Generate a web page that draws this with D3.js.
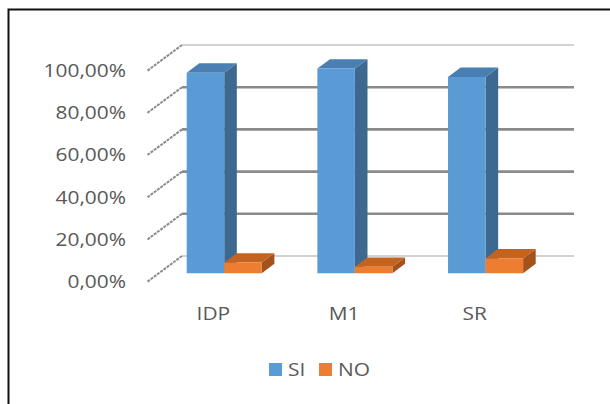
<!DOCTYPE html>
<html>
<head>
<meta charset="utf-8">
<script src="https://cdn.jsdelivr.net/npm/d3@7"></script>
<style>
  html, body { margin: 0; padding: 0; background: #fff; }
  svg { display: block; }
  text { font-family: "Open Sans", "Noto Sans", sans-serif; fill: #595959; }
</style>
</head>
<body>
<svg id="chart" width="610" height="404"></svg>
<script>
// Data
const categories = ["IDP", "M1", "SR"];
const seriesNames = ["SI", "NO"];
const siValues = [0.95, 0.97, 0.93];
const noValues = [0.05, 0.03, 0.07];
const tickValues = [0, 0.2, 0.4, 0.6, 0.8, 1.0];
const tickLabels = ["0,00%", "20,00%", "40,00%", "60,00%", "80,00%", "100,00%"];

const colors = {
  SI: { front: "#5b9bd5", side: "#3d6990", top: "#4a7fb3" },
  NO: { front: "#ed7d31", side: "#a4521b", top: "#c4631f" }
};

const FONT_SIZE = 19;
const STRETCH = 1.1; // slightly wide lettering

const svg = d3.select("#chart");

// Outer frame
svg.append("rect")
  .attr("x", 8.5).attr("y", 9.5)
  .attr("width", 620).attr("height", 420)
  .attr("fill", "none").attr("stroke", "#111").attr("stroke-width", 2);

// Back wall scales
const x = d3.scaleBand().domain(categories).range([182, 574]).padding(0);
const xSub = d3.scaleBand().domain(seriesNames).range([0, x.bandwidth()])
  .paddingInner(0).paddingOuter(0.74);
const y = d3.scaleLinear().domain([0, 1]).range([256, 45]);

// Oblique depth: vector from back wall to front edge of the floor
const DX = -35, DY = 26;
const T_FRONT = 0.66, T_BACK = 0.30;
const proj = (px, py, t) => [px + DX * t, py + DY * t];

// Back wall gridlines
const grid = svg.append("g");
tickValues.forEach((v, i) => {
  const edge = (i === 0 || i === tickValues.length - 1);
  grid.append("line")
    .attr("x1", 182).attr("x2", 574)
    .attr("y1", y(v)).attr("y2", y(v))
    .attr("stroke", edge ? "#d2d2d2" : "#8a8a8a")
    .attr("stroke-width", edge ? 2.2 : 2.6);
  // Side wall gridline (runs from back wall toward the front)
  const [fx, fy] = proj(182, y(v), 1);
  grid.append("line")
    .attr("x1", 182).attr("y1", y(v))
    .attr("x2", fx).attr("y2", fy)
    .attr("stroke", "#8c8c8c").attr("stroke-width", 2)
    .attr("stroke-dasharray", "3,1");
});

// Places a stretched text label at (px, py)
function placeText(sel, px, py) {
  sel.attr("transform", `translate(${px},${py}) scale(${STRETCH},1)`);
}

// Value axis labels (at the front edge of the side wall)
svg.append("g").selectAll("text")
  .data(tickValues)
  .join("text")
  .attr("text-anchor", "end")
  .attr("dominant-baseline", "middle")
  .attr("font-size", FONT_SIZE)
  .each(function (d) { placeText(d3.select(this), 126, y(d) + DY + 1); })
  .text((d, i) => tickLabels[i]);

// 3D columns
const rows = [];
categories.forEach((c, ci) => {
  seriesNames.forEach(s => {
    rows.push({ cat: c, series: s, value: s === "SI" ? siValues[ci] : noValues[ci] });
  });
});

const bars = svg.append("g");
const pts = a => a.map(p => p.join(",")).join(" ");
rows.forEach(d => {
  const x0 = x(d.cat) + xSub(d.series);
  const x1 = x0 + xSub.bandwidth();
  const yt = y(d.value), yb = y(0);
  const col = colors[d.series];
  const fTL = proj(x0, yt, T_FRONT), fTR = proj(x1, yt, T_FRONT);
  const fBL = proj(x0, yb, T_FRONT), fBR = proj(x1, yb, T_FRONT);
  const bTL = proj(x0, yt, T_BACK), bTR = proj(x1, yt, T_BACK);
  const bBR = proj(x1, yb, T_BACK);
  const g = bars.append("g");
  // right side face
  g.append("polygon").attr("points", pts([fTR, bTR, bBR, fBR])).attr("fill", col.side);
  // top face
  g.append("polygon").attr("points", pts([fTL, bTL, bTR, fTR])).attr("fill", col.top);
  // front face
  g.append("polygon").attr("points", pts([fTL, fTR, fBR, fBL])).attr("fill", col.front);
});

// Category labels (front edge of the floor)
svg.append("g").selectAll("text")
  .data(categories)
  .join("text")
  .attr("text-anchor", "middle")
  .attr("font-size", FONT_SIZE)
  .each(function (d) { placeText(d3.select(this), x(d) + x.bandwidth() / 2 + DX + 1, 320); })
  .text(d => d);

// Legend
const legend = svg.append("g");
const legendItems = [
  { name: "SI", x: 269 },
  { name: "NO", x: 319 }
];
legendItems.forEach(it => {
  legend.append("rect")
    .attr("x", it.x).attr("y", 363)
    .attr("width", 13).attr("height", 13)
    .attr("fill", colors[it.name].front);
  legend.append("text")
    .attr("font-size", FONT_SIZE)
    .call(placeText, it.x + 19, 376)
    .text(it.name);
});
</script>
</body>
</html>
